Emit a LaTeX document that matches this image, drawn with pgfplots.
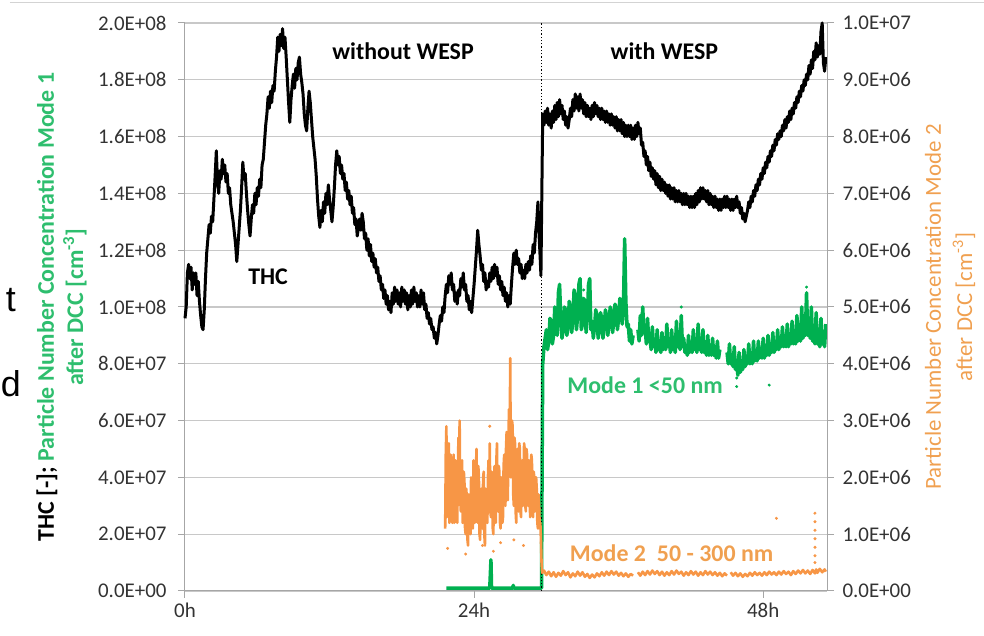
\documentclass[border=0pt]{standalone}
\usepackage{fontspec}
\setmainfont{Carlito}
\newfontfamily\arialf{Liberation Sans}
\usepackage{pgfplots}
\pgfplotsset{compat=1.18}
\usepackage{pgfplotstable}
\usetikzlibrary{calc}
\definecolor{mgreen}{HTML}{00B050}
\definecolor{mgreentxt}{HTML}{2EBE6E}
\definecolor{morange}{HTML}{F79646}
\definecolor{morangetxt}{HTML}{F0A050}
\definecolor{gridc}{HTML}{C8C8C8}
\definecolor{axc}{HTML}{A6A6A6}

% THC (left axis, unit 1E+08)
\pgfplotstableread{
h v
0.0 0.96
0.1 1.00
0.2 1.12
0.3 1.15
0.4 1.10
0.5 1.14
0.6 1.06
0.7 1.12
0.8 1.08
0.9 1.12
1.0 1.04
1.1 1.09
1.2 1.02
1.3 0.97
1.4 0.93
1.5 0.92
1.6 0.99
1.7 1.10
1.8 1.19
1.9 1.24
2.0 1.29
2.1 1.26
2.2 1.32
2.3 1.30
2.4 1.38
2.5 1.46
2.6 1.55
2.7 1.44
2.8 1.40
2.9 1.48
3.0 1.45
3.1 1.52
3.2 1.47
3.3 1.50
3.4 1.44
3.5 1.47
3.6 1.40
3.7 1.42
3.8 1.36
3.9 1.33
4.0 1.30
4.1 1.26
4.2 1.22
4.3 1.16
4.4 1.22
4.5 1.28
4.6 1.34
4.7 1.42
4.8 1.51
4.9 1.45
5.0 1.47
5.1 1.40
5.2 1.34
5.3 1.29
5.4 1.25
5.5 1.31
5.6 1.36
5.7 1.33
5.8 1.40
5.9 1.36
6.0 1.42
6.1 1.39
6.2 1.45
6.3 1.42
6.4 1.50
6.5 1.52
6.6 1.58
6.7 1.64
6.8 1.68
6.9 1.74
7.0 1.70
7.1 1.76
7.2 1.72
7.3 1.78
7.4 1.76
7.5 1.83
7.6 1.88
7.7 1.95
7.8 1.90
7.9 1.96
8.0 1.92
8.1 1.98
8.2 1.91
8.3 1.95
8.4 1.88
8.5 1.80
8.6 1.72
8.7 1.65
8.8 1.73
8.9 1.78
9.0 1.82
9.1 1.77
9.2 1.84
9.3 1.80
9.4 1.86
9.5 1.88
9.6 1.82
9.7 1.79
9.8 1.75
9.9 1.68
10.0 1.64
10.1 1.62
10.2 1.70
10.3 1.76
10.4 1.72
10.5 1.66
10.6 1.60
10.7 1.56
10.8 1.52
10.9 1.46
11.0 1.38
11.1 1.32
11.2 1.28
11.3 1.34
11.4 1.30
11.5 1.37
11.6 1.33
11.7 1.40
11.8 1.36
11.9 1.43
12.0 1.38
12.1 1.34
12.2 1.30
12.3 1.35
12.4 1.42
12.5 1.50
12.6 1.55
12.7 1.50
12.8 1.53
12.9 1.47
13.0 1.50
13.1 1.45
13.2 1.47
13.3 1.41
13.4 1.44
13.5 1.38
13.6 1.41
13.7 1.36
13.8 1.39
13.9 1.33
14.0 1.35
14.1 1.29
14.2 1.31
14.3 1.25
14.4 1.28
14.5 1.31
14.6 1.27
14.7 1.33
14.8 1.30
14.9 1.24
15.0 1.26
15.1 1.20
15.2 1.24
15.3 1.18
15.4 1.22
15.5 1.16
15.6 1.19
15.7 1.14
15.8 1.17
15.9 1.12
16.0 1.14
16.1 1.09
16.2 1.11
16.3 1.06
16.4 1.08
16.5 1.03
16.6 1.06
16.7 1.01
16.8 1.04
16.9 0.99
17.0 1.02
17.1 0.98
17.2 1.05
17.3 1.01
17.4 1.07
17.5 1.02
17.6 1.06
17.7 1.01
17.8 1.05
17.9 1.00
18.0 1.07
18.1 1.02
18.2 1.06
18.3 1.01
18.4 1.05
18.5 0.99
18.6 1.04
18.7 1.00
18.8 1.06
18.9 1.01
19.0 1.07
19.1 1.02
19.2 1.05
19.3 1.00
19.4 1.04
19.5 1.00
19.6 1.06
19.7 1.01
19.8 1.05
19.9 0.99
20.0 1.01
20.1 0.96
20.2 0.98
20.3 0.94
20.4 0.96
20.5 0.92
20.6 0.93
20.7 0.89
20.8 0.91
20.9 0.87
21.0 0.90
21.1 0.94
21.2 0.97
21.3 0.95
21.4 1.00
21.5 0.98
21.6 1.04
21.7 1.08
21.8 1.05
21.9 1.11
22.0 1.08
22.1 1.12
22.2 1.06
22.3 1.08
22.4 1.02
22.5 1.05
22.6 1.01
22.7 1.06
22.8 1.04
22.9 1.10
23.0 1.07
23.1 1.12
23.2 1.06
23.3 1.08
23.4 1.02
23.5 1.04
23.6 0.99
23.7 1.02
23.8 0.98
23.9 1.03
24.0 1.08
24.1 1.14
24.2 1.20
24.3 1.27
24.4 1.22
24.5 1.18
24.6 1.13
24.7 1.15
24.8 1.09
24.9 1.12
25.0 1.06
25.1 1.09
25.2 1.07
25.3 1.12
25.4 1.09
25.5 1.14
25.6 1.10
25.7 1.15
25.8 1.11
25.9 1.14
26.0 1.08
26.1 1.11
26.2 1.06
26.3 1.09
26.4 1.04
26.5 1.07
26.6 1.02
26.7 1.05
26.8 1.00
26.9 1.04
27.0 1.01
27.1 1.08
27.2 1.14
27.3 1.19
27.4 1.15
27.5 1.20
27.6 1.15
27.7 1.17
27.8 1.12
27.9 1.15
28.0 1.10
28.1 1.13
28.2 1.10
28.3 1.15
28.4 1.12
28.5 1.16
28.6 1.13
28.7 1.18
28.8 1.15
28.9 1.22
29.0 1.19
29.1 1.26
29.2 1.30
29.3 1.37
29.4 1.25
29.5 1.16
29.55 1.11
29.65 1.50
29.7 1.68
29.8 1.64
29.9 1.69
30.0 1.65
30.1 1.70
30.2 1.64
30.3 1.68
30.4 1.63
30.5 1.69
30.6 1.65
30.7 1.71
30.8 1.66
30.9 1.72
31.0 1.67
31.1 1.73
31.2 1.68
31.3 1.71
31.4 1.66
31.5 1.69
31.6 1.64
31.7 1.67
31.8 1.63
31.9 1.66
32.0 1.70
32.1 1.67
32.2 1.73
32.3 1.69
32.4 1.75
32.5 1.70
32.6 1.74
32.7 1.69
32.8 1.75
32.9 1.70
33.0 1.73
33.1 1.68
33.2 1.72
33.3 1.67
33.4 1.71
33.5 1.67
33.6 1.70
33.7 1.66
33.8 1.71
33.9 1.67
34.0 1.72
34.1 1.68
34.2 1.71
34.3 1.67
34.4 1.70
34.5 1.66
34.6 1.70
34.7 1.66
34.8 1.69
34.9 1.65
35.0 1.69
35.1 1.65
35.2 1.68
35.3 1.64
35.4 1.68
35.5 1.64
35.6 1.67
35.7 1.63
35.8 1.67
35.9 1.62
36.0 1.66
36.1 1.62
36.2 1.66
36.3 1.61
36.4 1.65
36.5 1.60
36.6 1.64
36.7 1.60
36.8 1.64
36.9 1.60
37.0 1.64
37.1 1.59
37.2 1.63
37.3 1.59
37.4 1.64
37.5 1.60
37.6 1.65
37.7 1.61
37.8 1.63
37.9 1.57
38.0 1.58
38.1 1.53
38.2 1.55
38.3 1.50
38.4 1.53
38.5 1.48
38.6 1.51
38.7 1.46
38.8 1.49
38.9 1.45
39.0 1.48
39.1 1.43
39.2 1.47
39.3 1.42
39.4 1.46
39.5 1.41
39.6 1.45
39.7 1.41
39.8 1.44
39.9 1.40
40.0 1.43
40.1 1.39
40.2 1.43
40.3 1.38
40.4 1.42
40.5 1.38
40.6 1.42
40.7 1.37
40.8 1.41
40.9 1.37
41.0 1.41
41.1 1.37
41.2 1.40
41.3 1.36
41.4 1.40
41.5 1.36
41.6 1.40
41.7 1.36
41.8 1.39
41.9 1.35
42.0 1.39
42.1 1.35
42.2 1.39
42.3 1.35
42.4 1.40
42.5 1.36
42.6 1.41
42.7 1.37
42.8 1.42
42.9 1.38
43.0 1.42
43.1 1.38
43.2 1.41
43.3 1.37
43.4 1.41
43.5 1.36
43.6 1.40
43.7 1.36
43.8 1.39
43.9 1.35
44.0 1.39
44.1 1.35
44.2 1.38
44.3 1.34
44.4 1.38
44.5 1.34
44.6 1.38
44.7 1.35
44.8 1.39
44.9 1.35
45.0 1.39
45.1 1.35
45.2 1.38
45.3 1.34
45.4 1.38
45.5 1.34
45.6 1.38
45.7 1.35
45.8 1.39
45.9 1.35
46.0 1.37
46.1 1.33
46.2 1.35
46.3 1.31
46.4 1.33
46.5 1.30
46.6 1.32
46.7 1.34
46.8 1.37
46.9 1.35
47.0 1.39
47.1 1.37
47.2 1.41
47.3 1.39
47.4 1.43
47.5 1.41
47.6 1.45
47.7 1.43
47.8 1.47
47.9 1.45
48.0 1.49
48.1 1.47
48.2 1.51
48.3 1.49
48.4 1.53
48.5 1.51
48.6 1.55
48.7 1.53
48.8 1.57
48.9 1.55
49.0 1.59
49.1 1.57
49.2 1.61
49.3 1.59
49.4 1.62
49.5 1.60
49.6 1.64
49.7 1.62
49.8 1.66
49.9 1.63
50.0 1.67
50.1 1.65
50.2 1.69
50.3 1.66
50.4 1.70
50.5 1.68
50.6 1.72
50.7 1.70
50.8 1.74
50.9 1.72
51.0 1.76
51.1 1.74
51.2 1.78
51.3 1.76
51.4 1.80
51.5 1.78
51.6 1.82
51.7 1.80
51.8 1.85
51.9 1.82
52.0 1.87
52.1 1.84
52.2 1.90
52.3 1.87
52.4 1.93
52.5 1.88
52.6 1.92
52.7 1.89
52.8 1.97
52.9 2.00
53.0 1.86
53.1 1.83
53.2 1.88
}\thc

% Mode 1 (left axis, unit 1E+08)
\pgfplotstableread{
h v
21.7 0.01
25.3 0.01
25.4 0.11
25.45 0.01
27.2 0.01
27.25 0.02
27.3 0.01
29.6 0.01
29.62 0.20
29.65 0.45
29.7 0.80
29.8 0.86
30.0 0.92
30.1 0.85
30.2 0.88
30.3 0.96
30.4 0.95
30.5 0.87
30.6 0.90
30.7 1.00
30.8 0.98
30.9 0.90
31.0 1.05
31.1 1.08
31.2 0.95
31.3 0.89
31.4 0.92
31.5 1.00
31.6 0.99
31.7 0.90
31.8 0.93
31.9 1.02
32.0 1.00
32.1 0.91
32.2 0.95
32.3 1.06
32.4 1.04
32.5 0.92
32.6 0.97
32.7 1.08
32.8 1.10
32.9 0.92
33.0 0.94
33.1 1.03
33.2 1.02
33.3 0.91
33.4 0.96
33.5 1.08
33.6 1.10
33.7 0.92
33.8 0.95
33.9 0.89
34.0 0.93
34.1 0.99
34.2 0.97
34.3 0.89
34.4 0.92
34.5 0.98
34.6 0.96
34.7 0.89
34.8 0.93
34.9 0.99
35.0 0.97
35.1 0.90
35.2 0.94
35.3 1.00
35.4 0.98
35.5 0.91
35.6 0.95
35.7 1.01
35.8 0.99
35.9 0.92
36.0 0.96
36.1 1.03
36.2 1.02
36.3 0.94
36.4 1.00
36.5 1.24
36.6 1.02
36.7 0.93
36.8 0.94
36.9 0.88
37.0 0.92
37.1 0.87
37.2 0.90
37.3 nan
37.6 0.92
37.7 0.88
37.8 0.97
37.9 0.90
38.0 1.00
38.1 0.91
38.2 0.93
38.3 0.87
38.4 0.96
38.5 0.88
38.6 0.89
38.7 0.85
38.8 0.93
38.9 0.86
39.0 0.88
39.1 0.84
39.2 0.92
39.3 0.85
39.4 0.87
39.5 0.84
39.6 0.91
39.7 0.85
39.8 0.88
39.9 0.85
40.0 0.94
40.1 0.86
40.2 0.88
40.3 0.84
40.4 0.92
40.5 0.85
40.6 0.87
40.7 0.84
40.8 0.95
40.9 0.86
41.0 0.90
41.1 0.85
41.2 0.97
41.3 0.86
41.4 0.89
41.5 0.84
41.6 0.86
41.7 0.83
41.8 0.90
41.9 0.84
42.0 0.87
42.1 0.84
42.2 0.92
42.3 0.85
42.4 0.88
42.5 0.84
42.6 0.94
42.7 0.85
42.8 0.89
42.9 0.84
43.0 0.92
43.1 0.84
43.2 0.87
43.3 0.83
43.4 0.90
43.5 0.83
43.6 0.86
43.7 0.83
43.8 0.89
43.9 0.83
44.0 0.86
44.1 0.82
44.2 0.88
44.3 0.82
44.4 0.85
44.7 nan
45.0 0.84
45.1 0.80
45.2 0.87
45.3 0.80
45.4 0.83
45.5 0.79
45.6 0.86
45.7 0.78
45.8 0.80
45.9 0.76
46.0 0.84
46.1 0.77
46.2 0.79
46.3 0.78
46.4 0.85
46.5 0.79
46.6 0.82
46.7 0.80
46.8 0.87
46.9 0.80
47.0 0.83
47.1 0.80
47.2 0.88
47.3 0.81
47.4 0.84
47.5 0.81
47.6 0.88
47.7 0.82
47.8 0.85
47.9 0.82
48.0 0.89
48.1 0.82
48.2 0.85
48.3 0.83
48.4 0.90
48.5 0.83
48.6 0.86
48.7 0.84
48.8 0.91
48.9 0.84
49.0 0.87
49.1 0.85
49.2 0.92
49.3 0.85
49.4 0.88
49.5 0.86
49.6 0.93
49.7 0.86
49.8 0.88
49.9 0.86
50.0 0.94
50.1 0.86
50.2 0.89
50.3 0.87
50.4 0.95
50.5 0.87
50.6 0.90
50.7 0.87
50.8 0.97
50.9 0.88
51.0 0.92
51.1 0.88
51.2 1.00
51.3 0.89
51.4 0.93
51.5 0.90
51.6 1.05
51.7 0.90
51.8 0.95
51.9 0.89
52.0 1.00
52.1 0.88
52.2 0.93
52.3 0.87
52.4 0.98
52.5 0.87
52.6 0.91
52.7 0.86
52.8 0.96
52.9 0.87
53.0 0.90
53.1 0.86
53.2 0.94
}\modeone

% Mode 2 (right axis, unit 1E+06)
\pgfplotstableread{
h v
21.60 1.1
21.65 2.4
21.70 2.9
21.75 1.3
21.80 1.4
21.85 2.2
21.90 2.6
21.95 1.2
22.00 1.3
22.05 2.4
22.10 2.2
22.15 1.3
22.20 1.2
22.25 2.1
22.30 2.4
22.35 1.2
22.40 1.3
22.45 2.3
22.50 2.0
22.55 1.3
22.60 1.2
22.65 2.0
22.70 2.7
22.75 2.3
22.80 3.0
22.85 1.6
22.90 1.4
22.95 2.0
23.00 2.3
23.05 1.2
23.10 1.3
23.15 2.1
23.20 1.9
23.25 1.1
23.30 1.0
23.35 1.8
23.40 1.6
23.45 0.9
23.50 0.8
23.55 1.7
23.60 1.5
23.65 1.1
23.70 1.0
23.75 2.0
23.80 1.9
23.85 1.2
23.90 1.1
23.95 2.3
24.00 2.2
24.05 1.2
24.10 1.3
24.15 2.1
24.20 2.5
24.25 1.4
24.30 1.2
24.35 2.2
24.40 2.0
24.45 1.0
24.50 0.9
24.55 1.7
24.60 1.8
24.65 1.2
24.70 1.1
24.75 2.0
24.80 2.1
24.85 1.0
24.90 0.8
24.95 1.8
25.00 1.7
25.05 1.3
25.10 1.2
25.15 2.0
25.20 2.3
25.25 1.5
25.30 2.6
25.35 1.4
25.40 1.3
25.45 2.1
25.50 2.0
25.55 1.1
25.60 1.0
25.65 2.0
25.70 2.2
25.75 1.3
25.80 1.2
25.85 2.3
25.90 2.6
25.95 1.5
26.00 1.4
26.05 2.2
26.10 2.1
26.15 1.2
26.20 1.1
26.25 2.0
26.30 1.9
26.35 1.2
26.40 1.3
26.45 2.2
26.50 2.4
26.55 1.6
26.60 1.5
26.65 2.5
26.70 2.8
26.75 1.7
26.80 1.6
26.85 2.7
26.90 3.2
26.95 2.4
27.00 4.1
27.05 2.0
27.10 2.2
27.15 3.0
27.20 2.9
27.25 1.7
27.30 1.5
27.35 2.7
27.40 2.6
27.45 1.4
27.50 1.2
27.55 2.3
27.60 2.5
27.65 1.5
27.70 1.4
27.75 2.6
27.80 2.5
27.85 1.4
27.90 1.3
27.95 2.2
28.00 2.3
28.05 1.5
28.10 1.6
28.15 2.6
28.20 2.5
28.25 1.5
28.30 1.4
28.35 2.5
28.40 2.4
28.45 1.6
28.50 1.5
28.55 2.3
28.60 2.2
28.65 1.3
28.70 1.4
28.75 2.4
28.80 2.3
28.85 1.4
28.90 1.3
28.95 2.1
29.00 2.0
29.05 1.4
29.10 1.5
29.15 2.0
29.20 1.8
29.25 1.2
29.30 1.1
29.35 1.7
29.40 1.5
29.45 1.1
29.50 1.2
29.55 0.9
29.60 0.5
29.65 0.32
29.8 0.36
30.0 0.28
30.2 0.34
30.4 0.26
30.6 0.33
30.8 0.25
31.0 0.32
31.2 0.27
31.4 0.35
31.6 0.28
31.8 0.33
32.0 0.24
32.2 0.31
32.4 0.26
32.6 0.34
32.8 0.27
33.0 0.33
33.2 0.25
33.4 0.30
33.6 0.23
33.8 0.29
34.0 0.24
34.2 0.31
34.4 0.26
34.6 0.33
34.8 0.27
35.0 0.34
35.2 0.28
35.4 0.35
35.6 0.29
35.8 0.34
36.0 0.27
36.2 0.32
36.4 0.26
36.6 0.31
36.8 0.25
37.0 0.30
37.2 0.27
37.4 nan
37.6 0.33
37.8 0.27
38.0 0.34
38.2 0.28
38.4 0.35
38.6 0.29
38.8 0.36
39.0 0.30
39.2 0.35
39.4 0.28
39.6 0.34
39.8 0.27
40.0 0.33
40.2 0.28
40.4 0.35
40.6 0.29
40.8 0.36
41.0 0.30
41.2 0.34
41.4 0.27
41.6 0.33
41.8 0.28
42.0 0.35
42.2 0.29
42.4 0.34
42.6 0.27
42.8 0.33
43.0 0.28
43.2 0.35
43.4 0.29
43.6 0.34
43.8 0.28
44.0 0.33
44.2 0.27
44.4 0.32
44.6 0.26
44.8 0.31
45.0 0.27
45.1 nan
45.3 0.33
45.5 0.27
45.7 0.32
45.9 0.26
46.1 0.31
46.3 0.25
46.5 0.30
46.7 0.26
46.9 0.32
47.1 0.27
47.3 0.33
47.5 0.28
47.7 0.32
47.9 0.27
48.1 0.33
48.3 0.28
48.5 0.34
48.7 0.29
48.9 0.33
49.1 0.28
49.3 0.34
49.5 0.29
49.7 0.35
49.9 0.30
50.1 0.34
50.3 0.28
50.5 0.35
50.7 0.30
50.9 0.36
51.1 0.31
51.3 0.37
51.5 0.31
51.7 0.36
51.9 0.30
52.1 0.37
52.3 0.31
52.4 0.38
52.5 0.32
52.7 0.39
52.9 0.33
53.1 0.38
53.2 0.34
}\modetwo

\begin{document}
\begin{tikzpicture}[x=1bp,y=1bp]
\useasboundingbox (-185,-45) rectangle (799,591);
\draw[gridc!80, line width=1bp] (-175,588) -- (799,588);
\node[anchor=base east, font=\arialf\fontsize{36}{40}\selectfont, inner sep=0pt] at (-169,279) {t};
\node[anchor=base east, font=\arialf\fontsize{36}{40}\selectfont, inner sep=0pt] at (-164,194) {d};

\begin{axis}[
  at={(0,0)}, anchor=south west, scale only axis,
  width=642bp, height=568bp,
  xmin=0, xmax=53.3, ymin=0, ymax=2,
  axis x line*=bottom, axis y line*=left,
  xtick={0,24,48}, xticklabels={0h,24h,48h},
  ytick={0,0.2,0.4,0.6,0.8,1.0,1.2,1.4,1.6,1.8,2.0},
  yticklabels={0.0E+00,2.0E+07,4.0E+07,6.0E+07,8.0E+07,1.0E+08,1.2E+08,1.4E+08,1.6E+08,1.8E+08,2.0E+08},
  ymajorgrids, grid style={gridc, line width=1.1bp},
  axis line style={axc, line width=1bp},
  tick style={axc, line width=1bp}, tick align=outside,
  major tick length=7bp,
  tick label style={font=\fontsize{21}{24}\selectfont, text=black!80},
  yticklabel style={xshift=-8bp},
  xticklabel style={yshift=-1bp},
  unbounded coords=jump,
  clip=false,
]
\addplot[black, line width=3bp, line join=round] table[x=h,y=v] {\thc};
\addplot[mgreen, line width=3.5bp, line join=round] table[x=h,y=v] {\modeone};
\addplot[mgreen, only marks, mark=*, mark size=1.3bp] coordinates {(45.8,0.72)(48.5,0.725)(45.8,0.75)(36.5,1.20)(51.6,1.07)(41.2,1.00)(33.1,1.06)};
\addplot[black, dotted, line width=1.3bp] coordinates {(29.6,0) (29.6,2)};
\node[font=\bfseries\fontsize{24}{28}\selectfont] at (axis cs:18.1,1.9) {without WESP};
\node[font=\bfseries\fontsize{24}{28}\selectfont] at (axis cs:39.8,1.9) {with WESP};
\node[font=\bfseries\fontsize{24}{28}\selectfont] at (axis cs:6.9,1.105) {THC};
\node[font=\bfseries\fontsize{24}{28}\selectfont, text=mgreentxt] at (axis cs:38.2,0.725) {Mode 1 <50 nm};
\node[font=\bfseries\fontsize{24}{28}\selectfont, text=morangetxt] at (axis cs:40.4,0.134) {Mode 2\ \ 50 - 300 nm};
\node[rotate=90, font=\bfseries\fontsize{24}{28}\selectfont] at ($(rel axis cs:0,0.5)+(-138bp,0)$) {THC [-]; \textcolor{mgreentxt}{Particle Number Concentration Mode 1}};
\node[rotate=90, font=\bfseries\fontsize{24}{28}\selectfont, text=mgreentxt] at ($(rel axis cs:0,0.5)+(-110bp,0)$) {after DCC [cm\textsuperscript{-3}]};
\end{axis}

\begin{axis}[
  at={(0,0)}, anchor=south west, scale only axis,
  width=642bp, height=568bp,
  xmin=0, xmax=53.3, ymin=0, ymax=10,
  axis x line=none, axis y line*=right,
  ytick={0,1,2,3,4,5,6,7,8,9,10},
  yticklabels={0.0E+00,1.0E+06,2.0E+06,3.0E+06,4.0E+06,5.0E+06,6.0E+06,7.0E+06,8.0E+06,9.0E+06,1.0E+07},
  axis line style={axc, line width=1bp},
  tick style={axc, line width=1bp}, tick align=outside,
  major tick length=7bp,
  tick label style={font=\fontsize{21}{24}\selectfont, text=black!80},
  yticklabel style={xshift=5bp},
  unbounded coords=jump,
  clip=false,
]
\addplot[morange, line width=2.6bp, line join=round] table[x=h,y=v] {\modetwo};
\addplot[morange, only marks, mark=*, mark size=1.3bp] coordinates {(21.8,0.75)(23.3,0.65)(24.7,0.8)(25.6,0.7)(26.2,0.85)(27.3,0.9)(28.1,0.8)(25.3,2.9)(49.1,1.28)(52.3,1.37)(52.3,1.22)(52.3,1.07)(52.3,0.92)(52.3,0.77)(52.3,0.62)(52.3,0.50)};
\node[rotate=90, font=\fontsize{23}{28}\selectfont, text=morangetxt] at ($(rel axis cs:1,0.5)+(106bp,0)$) {Particle Number Concentration Mode 2};
\node[rotate=90, font=\fontsize{23}{28}\selectfont, text=morangetxt] at ($(rel axis cs:1,0.5)+(137bp,0)$) {after DCC [cm\textsuperscript{-3}]};
\end{axis}
\end{tikzpicture}
\end{document}
